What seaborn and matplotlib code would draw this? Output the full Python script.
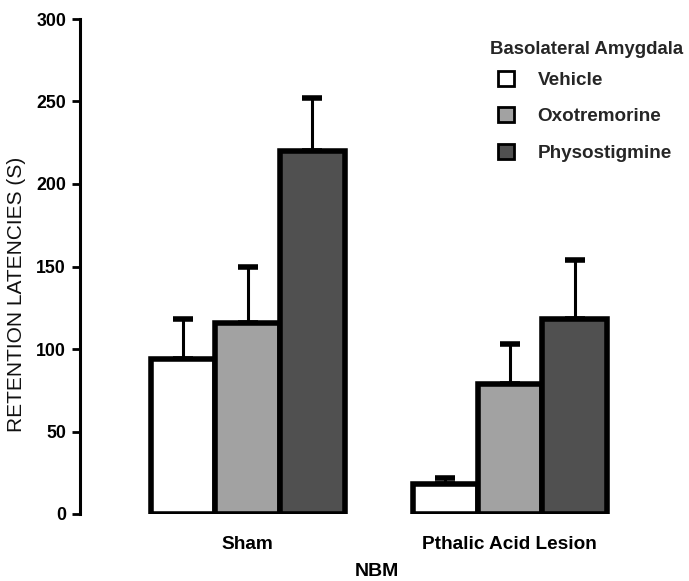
import matplotlib
matplotlib.use("Agg")
import matplotlib.pyplot as plt
import seaborn as sns
import pandas as pd
import numpy as np

groups = ["Sham", "Pthalic Acid Lesion"]
treatments = ["Vehicle", "Oxotremorine", "Physostigmine"]
means = {
    "Vehicle": [94, 18],
    "Oxotremorine": [116, 79],
    "Physostigmine": [220, 118],
}
errors = {
    "Vehicle": [24, 4],
    "Oxotremorine": [34, 24],
    "Physostigmine": [32, 36],
}
colors = ["#ffffff", "#a2a2a2", "#505050"]

rows = []
for t in treatments:
    for g, m in zip(groups, means[t]):
        rows.append({"group": g, "treatment": t, "value": m})
df = pd.DataFrame(rows)

sns.set_style("white")
plt.rcParams["font.family"] = ["Liberation Sans", "DejaVu Sans"]

fig = plt.figure(figsize=(6.89, 5.81), dpi=100)
# axes: left spine at x=80px, right at 675px, y=0 at 514px, y=300 at 19px
ax = fig.add_axes([80 / 689, 67 / 581, 595 / 689, 495 / 581])

sns.barplot(data=df, x="group", y="value", hue="treatment", order=groups,
            hue_order=treatments, palette=colors, edgecolor="black",
            linewidth=4, width=0.74, gap=0, errorbar=None, ax=ax, zorder=3)

for cont, t in zip(ax.containers, treatments):
    xs = [p.get_x() + p.get_width() / 2 for p in cont]
    ys = [p.get_height() for p in cont]
    ax.errorbar(xs, ys, yerr=[np.zeros(len(ys)), errors[t]], fmt="none",
                ecolor="black", elinewidth=2.2, capsize=7, capthick=4, zorder=2)

ax.set_ylim(0, 300)
ax.set_xlim(-0.64, 1.63)
ax.set_yticks([0, 50, 100, 150, 200, 250, 300])
for s in ["top", "right", "bottom"]:
    ax.spines[s].set_visible(False)
ax.spines["left"].set_linewidth(2.2)
ax.spines["left"].set_color("black")
ax.tick_params(axis="y", direction="out", length=6, width=2, left=True,
               labelsize=12.8, pad=4, colors="black")
ax.tick_params(axis="x", length=0, labelsize=13.7, pad=15.5, colors="black")
for lab in ax.get_yticklabels() + ax.get_xticklabels():
    lab.set_fontweight("bold")

ax.set_ylabel("RETENTION LATENCIES (S)", fontsize=15, color="#111111")
ax.yaxis.set_label_coords(-0.106, 0.444)
ax.yaxis.get_label().set_va("center")

ax.set_xlabel("NBM", fontsize=14, fontweight="bold", color="black")
ax.xaxis.set_label_coords(0.499, -0.117)
ax.xaxis.get_label().set_va("center")

leg = ax.legend(title="Basolateral Amygdala", loc="upper left",
                bbox_to_anchor=(490 / 689, 1 - 41 / 581),
                bbox_transform=fig.transFigure, frameon=False,
                prop={"weight": "bold", "size": 13.6},
                title_fontproperties={"weight": "bold", "size": 13.4},
                handlelength=0.85, handleheight=0.85, labelspacing=0.98,
                handletextpad=1.22, borderpad=0, borderaxespad=0)
for h in leg.legend_handles:
    h.set_linewidth(2)
leg._legend_box.align = "left"
leg._legend_handle_box.pad = 6
leg._legend_box.sep = 3.2

fig.savefig("out.png", dpi=100)
